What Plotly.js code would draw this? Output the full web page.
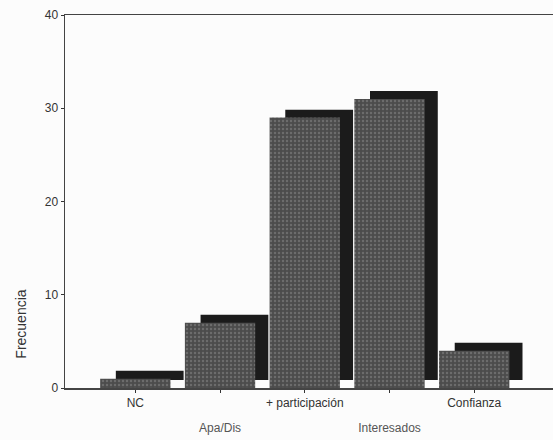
<!DOCTYPE html>
<html>
<head>
<meta charset="utf-8">
<script src="https://cdn.plot.ly/plotly-3.0.1.min.js"></script>
<style>html,body{margin:0;padding:0;background:#fcfcfc;}#chart{width:553px;height:440px;}</style>
</head>
<body>
<div id="chart"></div>
<script>
var categories = ["NC", "Apa/Dis", "+ participación", "Interesados", "Confianza"];
var frecuencia = [1, 7, 29, 31, 4];
var yTicks = [0, 10, 20, 30, 40];

var idx = categories.map(function (c, i) { return i; });
var rowOneLabels = categories.map(function (c, i) { return i % 2 === 0 ? c : ""; });
var oddIdx = idx.filter(function (i) { return i % 2 === 1; });
var rowTwoLabels = oddIdx.map(function (i) { return categories[i]; });

var depthX = 0.17, depthY = 0.85;
var xRange = [-0.83, 4.93];

var shadow = {
  type: "bar",
  x: idx.map(function (i) { return i + depthX; }),
  y: frecuencia,
  base: frecuencia.map(function () { return depthY; }),
  width: 0.8,
  marker: { color: "#1b1b1b", line: { width: 0 } },
  hoverinfo: "skip",
  showlegend: false
};

var front = {
  type: "bar",
  x: idx,
  y: frecuencia,
  width: 0.83,
  marker: {
    color: "#525252",
    line: { width: 0 },
    pattern: { shape: ".", fgcolor: "#6c6c6c", bgcolor: "#4c4c4c", size: 4, solidity: 0.3 }
  },
  showlegend: false
};

var layout = {
  width: 553, height: 440,
  margin: { l: 65, r: 0, t: 15, b: 52 },
  paper_bgcolor: "#fcfcfc",
  plot_bgcolor: "#fcfcfc",
  barmode: "overlay",
  font: { family: "Liberation Sans, Arial, sans-serif", color: "#333", size: 12 },
  xaxis: {
    range: xRange,
    tickvals: idx,
    ticktext: rowOneLabels,
    showgrid: false, zeroline: false,
    showline: true, mirror: true, linecolor: "#444", linewidth: 1.5,
    ticks: "outside", ticklen: 3, tickcolor: "#333",
    tickfont: { size: 12, color: "#333" }
  },
  xaxis2: {
    overlaying: "x", side: "bottom", anchor: "y",
    range: xRange,
    tickvals: oddIdx,
    ticktext: rowTwoLabels,
    showgrid: false, zeroline: false, showline: false,
    ticks: "", ticklabelstandoff: 31,
    tickfont: { size: 12, color: "#555" }
  },
  yaxis: {
    range: [0, 40],
    tickvals: yTicks,
    showgrid: false, zeroline: false,
    showline: true, linecolor: "#444", linewidth: 1.5,
    ticks: "outside", ticklen: 3, tickcolor: "#333",
    tickfont: { size: 12, color: "#333" }
  },
  annotations: [{
    text: "Frecuencia", textangle: -90,
    xref: "paper", yref: "paper", x: -0.09, y: 0.17,
    xanchor: "center", yanchor: "middle", showarrow: false,
    font: { size: 14, color: "#333" }
  }]
};

var helper = { type: "scatter", x: [], y: [], xaxis: "x2", yaxis: "y", showlegend: false, hoverinfo: "skip" };

Plotly.newPlot("chart", [shadow, front, helper], layout, { displayModeBar: false, staticPlot: true });
</script>
</body>
</html>
